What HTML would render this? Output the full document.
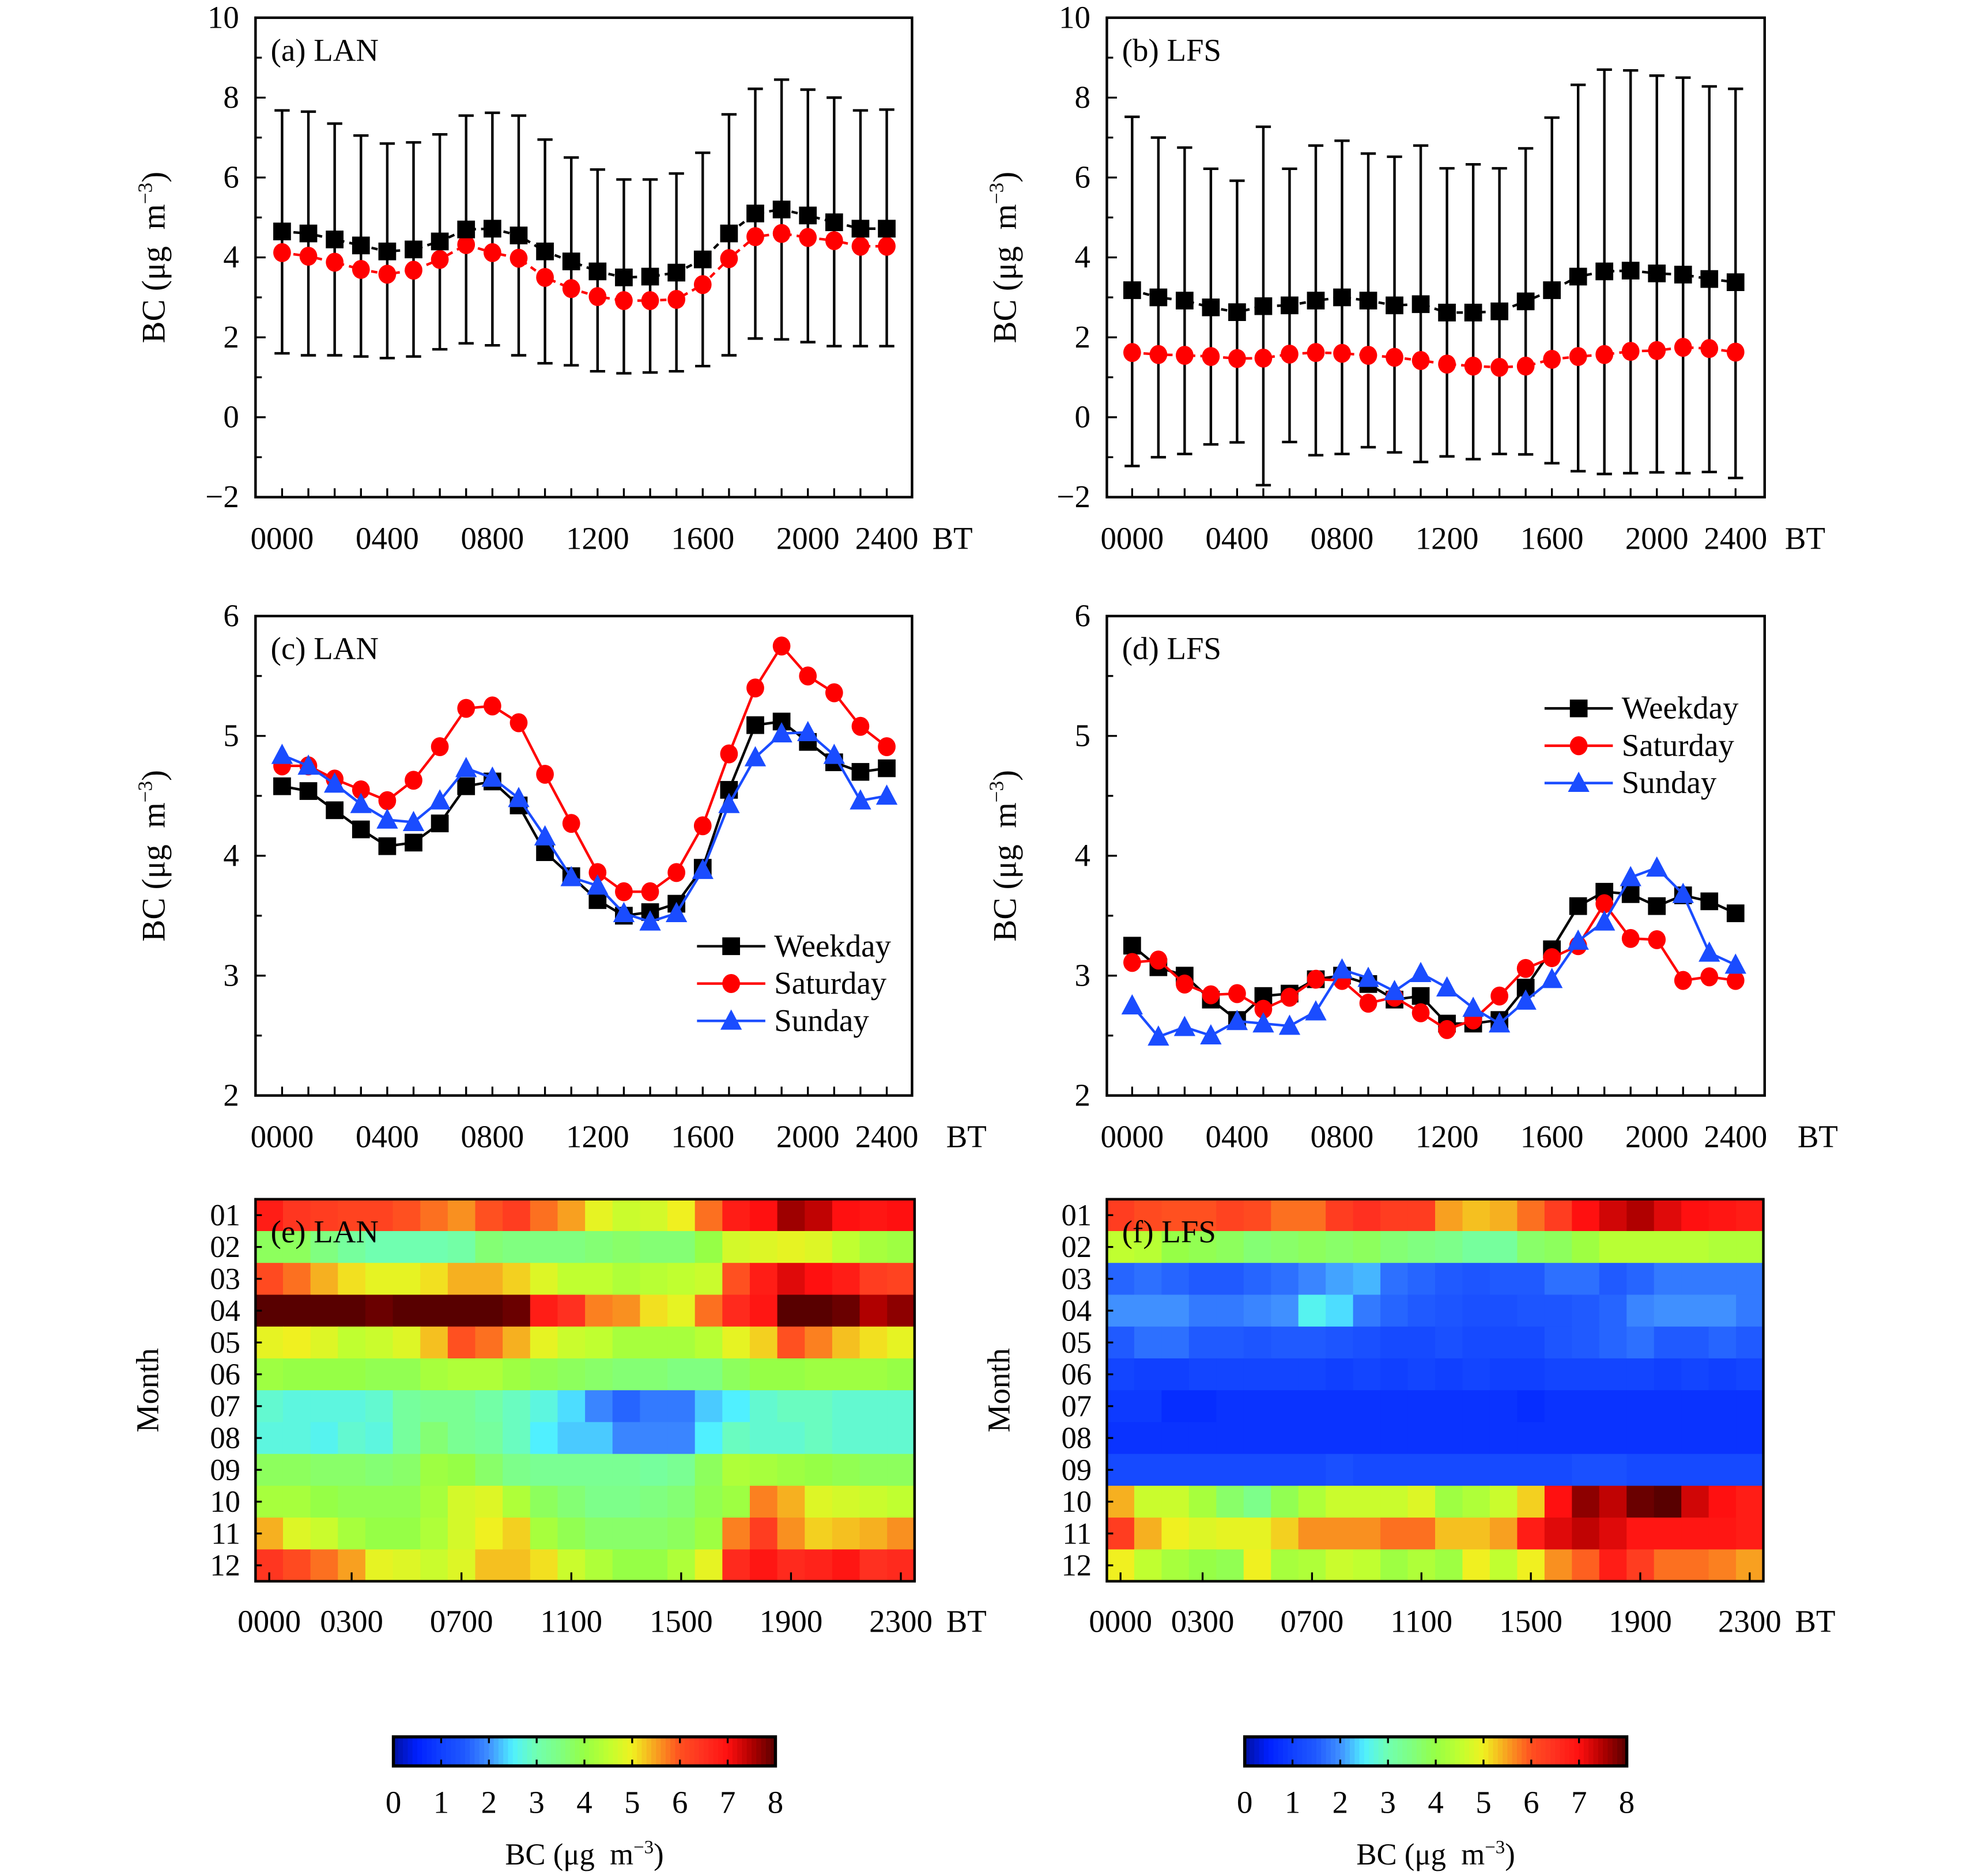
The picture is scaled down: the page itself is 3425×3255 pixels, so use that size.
<!DOCTYPE html>
<html><head><meta charset="utf-8"><style>
html,body{margin:0;padding:0;background:#fff}
svg{display:block}
text{font-family:"Liberation Serif",serif;fill:#000}
</style></head><body>
<svg id="fig" xmlns="http://www.w3.org/2000/svg" width="3425" height="3255" viewBox="0 0 1560.5 1483" preserveAspectRatio="none"></svg>
<script>
// ---- data ----
const hours = [0,1,2,3,4,5,6,7,8,9,10,11,12,13,14,15,16,17,18,19,20,21,22,23];
const xTickHours = [0,4,8,12,16,20,23];
const xTickLabels = ["0000","0400","0800","1200","1600","2000","2400"];
// panel a (LAN)
const aMean = [4.65,4.6,4.45,4.3,4.15,4.2,4.4,4.7,4.72,4.55,4.15,3.9,3.65,3.5,3.52,3.62,3.95,4.6,5.1,5.2,5.05,4.88,4.72,4.72];
const aUpper = [7.68,7.65,7.35,7.05,6.85,6.88,7.08,7.55,7.62,7.55,6.95,6.5,6.2,5.95,5.95,6.1,6.62,7.58,8.22,8.45,8.2,8.0,7.68,7.7];
const aLower = [1.6,1.55,1.55,1.52,1.48,1.52,1.7,1.85,1.8,1.55,1.35,1.3,1.15,1.1,1.12,1.15,1.28,1.55,1.97,1.95,1.88,1.78,1.78,1.78];
const aRed = [4.12,4.03,3.88,3.7,3.58,3.68,3.95,4.32,4.12,3.98,3.5,3.22,3.02,2.92,2.92,2.95,3.32,3.97,4.52,4.6,4.5,4.42,4.28,4.28];
// panel b (LFS)
const bMean = [3.18,3.0,2.92,2.75,2.63,2.78,2.8,2.92,3.0,2.92,2.8,2.83,2.62,2.62,2.65,2.9,3.18,3.52,3.65,3.67,3.6,3.57,3.46,3.38];
const bUpper = [7.52,7.0,6.75,6.22,5.92,7.27,6.22,6.8,6.92,6.6,6.52,6.8,6.23,6.33,6.23,6.73,7.5,8.32,8.7,8.68,8.55,8.5,8.28,8.22];
const bLower = [-1.22,-1.0,-0.92,-0.68,-0.63,-1.7,-0.62,-0.95,-0.92,-0.75,-0.88,-1.12,-0.98,-1.05,-0.92,-0.93,-1.15,-1.35,-1.42,-1.4,-1.38,-1.4,-1.37,-1.52];
const bRed = [1.62,1.57,1.55,1.52,1.47,1.48,1.58,1.62,1.6,1.55,1.5,1.42,1.33,1.28,1.25,1.28,1.45,1.52,1.57,1.65,1.67,1.75,1.72,1.63];
// panel c (LAN)
const cWeekday = [4.58,4.54,4.38,4.22,4.08,4.11,4.27,4.58,4.62,4.42,4.03,3.83,3.63,3.5,3.53,3.6,3.9,4.55,5.09,5.12,4.95,4.78,4.7,4.73];
const cSaturday = [4.75,4.75,4.64,4.55,4.46,4.63,4.91,5.23,5.25,5.11,4.68,4.27,3.86,3.7,3.7,3.86,4.25,4.85,5.4,5.75,5.5,5.36,5.08,4.91];
const cSunday = [4.84,4.75,4.6,4.43,4.3,4.28,4.46,4.73,4.65,4.48,4.16,3.82,3.75,3.52,3.45,3.52,3.88,4.43,4.82,5.02,5.03,4.84,4.46,4.5];
// panel d (LFS)
const dWeekday = [3.25,3.07,3.0,2.8,2.63,2.83,2.85,2.97,3.0,2.93,2.8,2.83,2.6,2.6,2.63,2.9,3.22,3.58,3.7,3.68,3.58,3.67,3.62,3.52];
const dSaturday = [3.11,3.13,2.93,2.84,2.85,2.72,2.82,2.97,2.96,2.77,2.82,2.69,2.55,2.63,2.83,3.06,3.15,3.25,3.6,3.31,3.3,2.96,2.99,2.96];
const dSunday = [2.75,2.49,2.57,2.5,2.62,2.6,2.58,2.7,3.05,2.98,2.87,3.02,2.9,2.73,2.6,2.79,2.97,3.29,3.45,3.82,3.9,3.68,3.19,3.09];
// heatmaps
const months = ["01","02","03","04","05","06","07","08","09","10","11","12"];
const hmTickCols = [0,3,7,11,15,19,23];
const hmTickLabels = ["0000","0300","0700","1100","1500","1900","2300"];
const eGrid = [
[6.8,6.4,6.3,6.2,6.2,6.0,5.8,5.6,6.0,6.3,5.8,5.5,4.9,4.6,4.7,5.0,5.8,6.8,7.0,7.6,7.4,7.0,6.9,7.0],
[3.8,3.8,3.5,3.2,3.0,3.0,3.0,3.1,3.6,3.5,3.5,3.5,3.6,3.7,3.6,3.6,4.0,4.7,4.8,4.9,4.8,4.5,4.2,4.1],
[6.1,5.8,5.4,5.1,4.9,4.9,5.1,5.4,5.4,5.2,4.8,4.5,4.5,4.3,4.4,4.5,4.6,6.0,6.8,7.2,7.0,6.8,6.3,6.2],
[8,8,8,8,7.9,8,8,8,8,7.9,6.8,6.5,5.7,5.6,5.1,4.9,5.8,6.6,6.9,8,8,7.9,7.5,7.7],
[4.9,5.0,4.8,4.5,4.6,4.8,5.3,6.0,5.8,5.4,4.9,4.6,4.5,4.2,4.2,4.2,4.4,4.9,5.2,6.0,5.7,5.3,5.1,4.9],
[4.1,4.0,4.0,4.0,3.9,3.9,4.2,4.3,4.3,4.1,3.9,3.8,3.7,3.6,3.6,3.5,3.5,3.8,4.0,4.0,4.1,4.1,4.1,4.0],
[2.8,2.7,2.7,2.7,2.8,3.2,3.3,3.3,3.1,2.9,2.7,2.4,1.9,1.6,1.8,1.8,2.3,2.5,2.8,2.9,2.9,2.8,2.8,2.8],
[2.7,2.7,2.6,2.8,2.7,3.2,3.6,3.3,3.2,2.9,2.5,2.3,2.3,1.9,1.9,1.9,2.5,2.9,2.8,2.8,2.9,2.8,2.8,2.8],
[3.8,3.8,3.7,3.7,3.6,3.7,4.1,4.0,3.7,3.4,3.3,3.3,3.3,3.3,3.2,3.3,3.8,4.3,4.2,4.1,4.0,3.9,3.8,3.8],
[4.2,4.2,4.0,3.9,3.9,3.9,4.2,4.7,4.8,4.3,3.8,3.6,3.4,3.4,3.5,3.6,3.9,4.1,5.7,5.4,4.8,4.7,4.6,4.5],
[5.4,4.8,4.6,4.2,4.0,4.0,4.3,4.7,5.0,5.2,4.2,3.9,3.7,3.7,3.7,3.8,4.1,5.7,6.3,5.6,5.2,5.3,5.4,5.6],
[6.4,6.1,5.8,5.5,4.9,4.8,4.6,4.8,5.3,5.3,5.1,4.6,4.3,4.0,4.0,4.3,4.9,6.6,6.9,6.6,6.7,6.9,6.5,6.6]];
const fGrid = [
[6.3,6.1,6.0,6.0,6.2,6.1,5.8,5.8,6.3,6.5,6.3,6.3,5.5,5.3,5.4,5.8,6.3,7.0,7.3,7.5,7.2,7.0,6.9,6.8],
[4.5,4.4,4.0,3.9,3.8,3.6,3.7,3.8,3.7,3.8,3.6,3.5,3.4,3.2,3.2,3.7,3.8,4.1,4.4,4.4,4.4,4.4,4.3,4.3],
[1.6,1.7,1.6,1.5,1.5,1.6,1.7,1.9,2.1,2.2,1.7,1.6,1.5,1.4,1.5,1.5,1.7,1.7,1.5,1.6,1.8,1.8,1.8,1.8],
[2.0,2.0,2.0,1.8,1.8,1.9,2.0,2.6,2.4,1.8,1.6,1.5,1.4,1.3,1.3,1.4,1.4,1.5,1.6,1.9,2.0,2.0,2.0,1.8],
[1.5,1.7,1.7,1.5,1.5,1.4,1.5,1.5,1.4,1.3,1.2,1.2,1.3,1.2,1.2,1.2,1.4,1.5,1.6,1.7,1.5,1.5,1.6,1.5],
[1.1,1.0,1.0,1.1,1.1,1.1,1.1,1.1,1.0,1.1,1.0,1.1,1.0,1.1,1.0,1.0,1.1,1.1,1.1,1.1,1.0,1.1,1.0,1.1],
[0.9,0.9,0.7,0.7,0.8,0.8,0.8,0.8,0.8,0.8,0.8,0.8,0.8,0.8,0.8,0.7,0.8,0.8,0.8,0.8,0.8,0.8,0.8,0.8],
[0.8,0.8,0.8,0.8,0.8,0.8,0.8,0.8,0.8,0.8,0.8,0.8,0.8,0.8,0.8,0.8,0.8,0.8,0.8,0.8,0.8,0.8,0.8,0.8],
[1.2,1.2,1.2,1.2,1.2,1.2,1.2,1.2,1.3,1.2,1.2,1.2,1.2,1.2,1.2,1.2,1.2,1.3,1.3,1.2,1.2,1.2,1.2,1.2],
[5.4,4.6,4.6,4.2,3.7,3.4,3.9,4.3,4.6,4.6,4.6,4.8,4.1,4.3,4.6,5.2,7.0,7.7,7.4,7.9,8.0,7.3,7.0,6.8],
[6.3,5.4,5.0,4.8,4.9,4.9,5.2,5.6,5.6,5.6,5.8,5.8,5.3,5.3,5.5,6.8,7.2,7.4,7.2,6.9,6.9,6.9,6.9,6.8],
[5.0,4.5,4.2,4.0,3.9,5.0,4.2,4.3,4.6,4.5,4.1,4.3,4.1,5.0,4.5,5.0,5.6,5.9,6.8,6.3,5.8,5.8,5.7,5.5]];
const cbTicks = [0,1,2,3,4,5,6,7,8];

// ---- helpers ----
const NS = "http://www.w3.org/2000/svg";
const svg = document.getElementById('fig');
function mk(tag, attrs, parent){ const e=document.createElementNS(NS,tag); for(const k in attrs) e.setAttribute(k,attrs[k]); (parent||svg).appendChild(e); return e; }
function txt(s, x, y, size, anchor, parent){ const t=mk('text',{x:x,y:y,'font-size':size,'text-anchor':anchor||'middle'},parent); t.textContent=s; return t; }

const stops = [[0,[0,16,160]],[0.5,[0,32,255]],[1,[16,64,255]],[1.5,[32,90,255]],[2,[64,144,255]],[2.5,[80,240,255]],[3,[112,255,176]],[3.5,[128,255,128]],[4,[150,255,70]],[4.5,[192,255,48]],[5,[240,240,32]],[5.5,[248,160,32]],[6,[255,80,32]],[6.5,[255,48,32]],[7,[255,16,16]],[7.5,[176,0,0]],[8,[88,0,0]]];
function cmap(v){ v=Math.max(0,Math.min(8,v)); for(let i=0;i<stops.length-1;i++){ const a=stops[i],b=stops[i+1]; if(v<=b[0]){ const t=(v-a[0])/(b[0]-a[0]); const c=a[1].map((x,j)=>Math.round(x+(b[1][j]-x)*t)); return 'rgb('+c.join(',')+')'; } } return 'rgb(88,0,0)'; }

function linePanel(p){
  const g = mk('g',{});
  
  
  const X = h => p.x0 + (h - 0) * (p.x23 - p.x0) / 23;
  const Y = v => p.y1 - (v - p.ymin) * (p.y1 - p.y0) / (p.ymax - p.ymin);
  const box = mk('rect',{x:p.bx0,y:p.y0,width:p.bx1-p.bx0,height:p.y1-p.y0,fill:'none',stroke:'#000','stroke-width':2},g);
   
  hours.forEach(h=>{ mk('line',{x1:X(h),x2:X(h),y1:p.y1,y2:p.y1-7,stroke:'#000','stroke-width':1.5},g); });
  xTickHours.forEach((h,i)=>{ const t=txt(xTickLabels[i],X(h),p.y1+41,25,'middle',g);   });
  const bt = txt('BT',p.btx,p.y1+41,25,'start',g);
   
  for(let v=p.ymin; v<=p.ymax+1e-9; v+=p.minor){ const major=Math.abs((v-p.ymin)/p.major-Math.round((v-p.ymin)/p.major))<1e-6; mk('line',{x1:p.bx0,x2:p.bx0+(major?8:5),y1:Y(v),y2:Y(v),stroke:'#000','stroke-width':1.5},g); if(major){ const t=txt(v<0?'\u2212'+(-v):String(v),p.bx0-13,Y(v)+8,25,'end',g);   } }
  const yt = mk('text',{x:0,y:0,'font-size':26,'text-anchor':'middle',transform:'translate('+(p.bx0-72)+','+((p.y0+p.y1)/2)+') rotate(-90)'},g);
  yt.innerHTML='BC (\u03bcg&#160;&#160;m<tspan dy="-10" font-size="16">\u22123</tspan><tspan dy="10">)</tspan>';
   
  const lab = txt(p.label,p.bx0+12,p.y0+34,25,'start',g);
   
  if(p.upper){ hours.forEach((h,i)=>{ const eb=mk('g',{},g);  
    mk('line',{x1:X(h),x2:X(h),y1:Y(p.upper[i]),y2:Y(p.lower[i]),stroke:'#000','stroke-width':2},eb);
    mk('line',{x1:X(h)-6,x2:X(h)+6,y1:Y(p.upper[i]),y2:Y(p.upper[i]),stroke:'#000','stroke-width':2},eb);
    mk('line',{x1:X(h)-6,x2:X(h)+6,y1:Y(p.lower[i]),y2:Y(p.lower[i]),stroke:'#000','stroke-width':2},eb); }); }
  p.series.forEach(s=>{
    const sg = mk('g',{},g);
    
    
    mk('polyline',{points:hours.map((h,i)=>X(h)+','+Y(s.data[i])).join(' '),fill:'none',stroke:s.color,'stroke-width':2,'stroke-dasharray':s.dash||'none'},sg);
    hours.forEach((h,i)=>{ const m=marker(s.shape,X(h),Y(s.data[i]),s.color,sg);   });
  });
  if(p.legend){ p.series.forEach((s,i)=>{ const lg=mk('g',{},g);  
    const ly=p.legend.y+i*29.5; mk('line',{x1:p.legend.x,x2:p.legend.x+54,y1:ly,y2:ly,stroke:s.color,'stroke-width':2},lg);
    marker(s.shape,p.legend.x+27,ly,s.color,lg); txt(s.label,p.legend.x+61,ly+8,25,'start',lg); }); }
}
function marker(shape,x,y,c,parent){
  if(shape==='sq') return mk('rect',{x:x-7,y:y-7,width:14,height:14,fill:c},parent);
  if(shape==='ci') return mk('ellipse',{cx:x,cy:y,rx:7,ry:7.5,fill:c},parent);
  return mk('polygon',{points:(x)+','+(y-9)+' '+(x-8.5)+','+(y+7)+' '+(x+8.5)+','+(y+7),fill:c},parent);
}
const L={bx0:202,bx1:721,x0:223,x23:701}, R={bx0:875,bx1:1395,x0:895,x23:1372};
linePanel({name:'panel-a-lan',label:'(a) LAN',...L,btx:737,y0:14,y1:393,ymin:-2,ymax:10,major:2,minor:1,upper:aUpper,lower:aLower,
  series:[{name:'series-red-mean',data:aRed,color:'#ff0000',shape:'ci',dash:'5,4'},{name:'series-black-mean',data:aMean,color:'#000',shape:'sq',dash:'5,4'}]});
linePanel({name:'panel-b-lfs',label:'(b) LFS',...R,btx:1411,y0:14,y1:393,ymin:-2,ymax:10,major:2,minor:1,upper:bUpper,lower:bLower,
  series:[{name:'series-red-mean',data:bRed,color:'#ff0000',shape:'ci',dash:'5,4'},{name:'series-black-mean',data:bMean,color:'#000',shape:'sq',dash:'5,4'}]});
linePanel({name:'panel-c-lan',label:'(c) LAN',...L,btx:748,y0:487,y1:866,ymin:2,ymax:6,major:1,minor:0.5,legend:{x:551,y:748},
  series:[{name:'series-weekday',label:'Weekday',data:cWeekday,color:'#000',shape:'sq'},{name:'series-saturday',label:'Saturday',data:cSaturday,color:'#ff0000',shape:'ci'},{name:'series-sunday',label:'Sunday',data:cSunday,color:'#1a4cff',shape:'tr'}]});
linePanel({name:'panel-d-lfs',label:'(d) LFS',...R,btx:1421,y0:487,y1:866,ymin:2,ymax:6,major:1,minor:0.5,legend:{x:1221,y:560},
  series:[{name:'series-weekday',label:'Weekday',data:dWeekday,color:'#000',shape:'sq'},{name:'series-saturday',label:'Saturday',data:dSaturday,color:'#ff0000',shape:'ci'},{name:'series-sunday',label:'Sunday',data:dSunday,color:'#1a4cff',shape:'tr'}]});

function heatPanel(p){
  const g = mk('g',{});
  
  
  const cw=(p.x1-p.x0)/24, rh=(p.y1-p.y0)/12;
  p.grid.forEach((row,r)=>row.forEach((v,c)=>{ const cell=mk('rect',{x:p.x0+c*cw,y:p.y0+r*rh,width:cw+0.4,height:rh+0.4,fill:cmap(v)},g);   }));
  mk('rect',{x:p.x0,y:p.y0,width:p.x1-p.x0,height:p.y1-p.y0,fill:'none',stroke:'#000','stroke-width':2},g);
  months.forEach((m,r)=>{ const y=p.y0+(r+0.5)*rh; mk('line',{x1:p.x0,x2:p.x0+5,y1:y,y2:y,stroke:'#000','stroke-width':1.5},g); const t=txt(m,p.x0-12,y+8,24,'end',g);   });
  hmTickCols.forEach((c,i)=>{ const x=p.x0+(c+0.5)*cw; mk('line',{x1:x,x2:x,y1:p.y1,y2:p.y1-7,stroke:'#000','stroke-width':1.5},g); const t=txt(hmTickLabels[i],x,p.y1+40,25,'middle',g);   });
  txt('BT',p.x1+25,p.y1+40,25,'start',g);
  const yt=mk('text',{x:0,y:0,'font-size':25,'text-anchor':'middle',transform:'translate('+(p.x0-77)+','+((p.y0+p.y1)/2)+') rotate(-90)'},g); yt.textContent='Month';
   
  const lab=txt(p.label,p.x0+12,p.y0+34,25,'start',g);
   
  const cb=mk('g',{},g);  
  const cx0=p.cbx, cx1=p.cbx+302, cy0=1373, cy1=1396, n=80;
  for(let i=0;i<n;i++){ mk('rect',{x:cx0+i*(cx1-cx0)/n,y:cy0,width:(cx1-cx0)/n+0.5,height:cy1-cy0,fill:cmap((i+0.5)*8/n)},cb); }
  mk('rect',{x:cx0,y:cy0,width:cx1-cx0,height:cy1-cy0,fill:'none',stroke:'#000','stroke-width':2.5},cb);
  cbTicks.forEach(v=>{ const x=cx0+v*(cx1-cx0)/8; mk('line',{x1:x,x2:x,y1:cy0,y2:cy0+5,stroke:'#000','stroke-width':1.5},cb); mk('line',{x1:x,x2:x,y1:cy1,y2:cy1-5,stroke:'#000','stroke-width':1.5},cb); const t=txt(String(v),x,1433,25,'middle',cb);   });
  const ct=mk('text',{x:(cx0+cx1)/2,y:1474,'font-size':24,'text-anchor':'middle'},cb);
  ct.innerHTML='BC (\u03bcg&#160;&#160;m<tspan dy="-9" font-size="15">\u22123</tspan><tspan dy="9">)</tspan>';
   
}
heatPanel({name:'panel-e-lan-heatmap',label:'(e) LAN',grid:eGrid,x0:202,x1:723,y0:948,y1:1250,cbx:311});
heatPanel({name:'panel-f-lfs-heatmap',label:'(f) LFS',grid:fGrid,x0:875,x1:1394,y0:948,y1:1250,cbx:984});
</script>
</body></html>
